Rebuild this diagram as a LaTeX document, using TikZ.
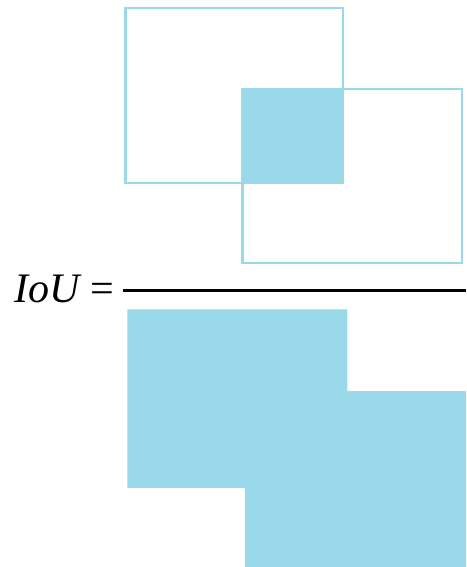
\documentclass[tikz,border=0pt]{standalone}
\usepackage{fontspec}
\setmainfont{Liberation Serif}
\definecolor{ioublue}{RGB}{153,217,234}
\tikzset{
  boxline/.style={draw=ioublue, line width=2.9pt},
  boxfill/.style={fill=ioublue, draw=none},
  fracline/.style={draw=black, line width=2.4pt}
}
\begin{document}
\begin{tikzpicture}[x=1pt,y=-1pt]
\useasboundingbox (0,0) rectangle (466,567);
% intersection fill
\fill[ioublue] (242.3,88.8) rectangle (343.5,183.3);
% box outlines
\draw[boxline] (125.5,8) rectangle (343,183);
\draw[boxline] (242.5,89) rectangle (462,263);
% fraction line
\draw[fracline] (123,290.5) -- (466,290.5);
% union
\path[boxfill] (127.3,309.3) -- (347.3,309.3) -- (347.3,391) -- (466,391) -- (466,567)
  -- (245,567) -- (245,487.8) -- (127.3,487.8) -- cycle;
% label
\node[anchor=base west, inner sep=0pt, font=\fontsize{42}{44}\selectfont] (lbl) at (14,302.7) {\textit{IoU}\hspace{9pt}=};
\end{tikzpicture}
\end{document}
